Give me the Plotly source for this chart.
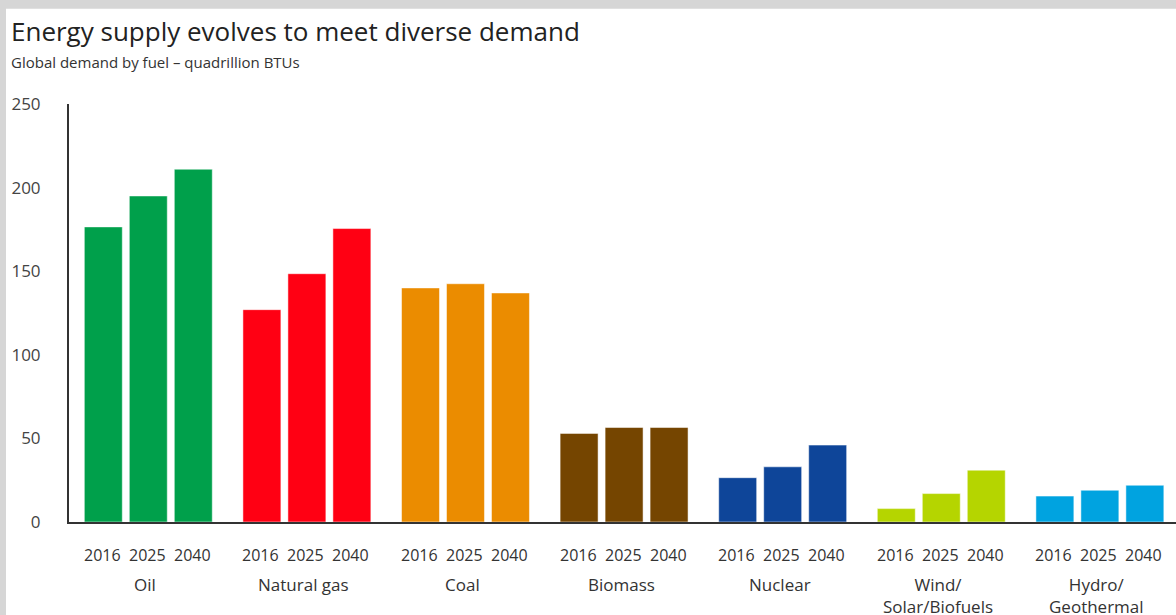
import plotly.graph_objects as go

fuels = ["Oil", "Natural gas", "Coal", "Biomass", "Nuclear", "Wind/<br>Solar/Biofuels", "Hydro/<br>Geothermal"]
years = ["2016", "2025", "2040"]
values_2016 = [176.5, 127, 140, 53, 26.5, 8, 15.5]
values_2025 = [195, 148.5, 142.5, 56.5, 33, 17, 19]
values_2040 = [211, 175.5, 137, 56.5, 46, 31, 22]
fuel_colors = ["#00A04B", "#FF0013", "#EB8C00", "#754500", "#0E4599", "#B5D500", "#00A3E0"]
y_ticks = [0, 50, 100, 150, 200, 250]

series = [values_2016, values_2025, values_2040]

W, H = 1176, 615
L, R, T, B = 69, 0, 103.5, 92.5
plot_h = H - T - B

def ypaper(px):
    return (H - B - px) / plot_h

def xpaper(px):
    return (px - L) / (W - L - R)

fig = go.Figure()
for yr, vals in zip(years, series):
    fig.add_trace(go.Bar(
        x=fuels, y=vals, name=yr,
        marker=dict(color=fuel_colors, line=dict(color="rgba(255,255,255,0.5)", width=1)),
        showlegend=False, hoverinfo="x+y+name",
    ))

annotations = []
offsets = [-46, -1, 44]
for f in fuels:
    for yr, dx in zip(years, offsets):
        annotations.append(dict(
            x=f, xref="x", y=ypaper(556), yref="paper", xshift=dx,
            text=yr, showarrow=False, xanchor="center", yanchor="middle",
            font=dict(family="Open Sans", size=16, color="#333333"),
        ))
    annotations.append(dict(
        x=f, xref="x", y=ypaper(572), yref="paper", xshift=-3,
        text=f, showarrow=False, xanchor="center", yanchor="top",
        font=dict(family="Open Sans", size=17, color="#333333"),
    ))

annotations.append(dict(
    x=xpaper(9), xref="paper", y=ypaper(30), yref="paper",
    text="Energy supply evolves to meet diverse demand", showarrow=False,
    xanchor="left", yanchor="middle",
    font=dict(family="Open Sans", size=26, color="#222222"),
))
annotations.append(dict(
    x=xpaper(9), xref="paper", y=ypaper(61), yref="paper",
    text="Global demand by fuel – quadrillion BTUs", showarrow=False,
    xanchor="left", yanchor="middle",
    font=dict(family="Open Sans", size=15, color="#333333"),
))

shapes = [dict(
    type="rect", xref="paper", yref="paper", layer="below",
    x0=xpaper(6), x1=1.05, y0=ypaper(8), y1=ypaper(640),
    fillcolor="white", line=dict(width=0),
)]

fig.update_layout(
    width=W, height=H,
    margin=dict(l=L, r=R, t=T, b=B, pad=0),
    paper_bgcolor="#d6d6d6",
    plot_bgcolor="rgba(0,0,0,0)",
    barmode="group",
    bargap=0.149,
    bargroupgap=0.156,
    annotations=annotations,
    shapes=shapes,
    xaxis=dict(
        range=[-0.5, 6.48], showticklabels=False, ticks="",
        showline=True, linecolor="#333333", linewidth=2, showgrid=False, zeroline=False,
    ),
    yaxis=dict(
        range=[0, 250], tickvals=y_ticks, ticktext=[str(v) for v in y_ticks],
        showgrid=False, zeroline=False, showline=True, linecolor="#333333", linewidth=2,
        ticks="", ticklabelstandoff=23,
        tickfont=dict(family="Open Sans", size=17, color="#444444"),
    ),
)

fig.write_html(
    "out.html",
    config={"displayModeBar": False},
    post_script="document.body.style.margin='0';document.body.style.overflow='hidden';",
)
